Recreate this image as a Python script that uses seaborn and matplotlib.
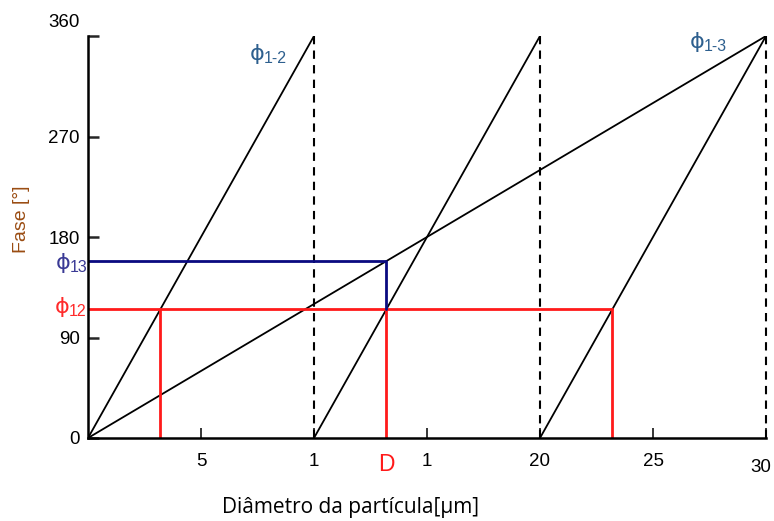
import matplotlib
matplotlib.use("Agg")
import matplotlib.pyplot as plt
import matplotlib.transforms as mtransforms
import seaborn as sns
import pandas as pd
import numpy as np

# ---- data ----
period_12 = 10.0          # ϕ1-2 wraps every 10 units
period_13 = 30.0          # ϕ1-3 wraps every 30 units
phase_max = 360
x_max = 30
D_value = 13.2
phi12_value = 115.2
phi13_value = 158.4
x_ticks = [5, 10, 13.2, 15, 20, 25, 30]
x_tick_labels = ["5", "1", "D", "1", "20", "25", "30"]
y_ticks = [0, 90, 180, 270, 360]
y_tick_labels = ["0", "90", "180", "270", "360"]
x_label = "Diâmetro da partícula[µm]"
y_label = "Fase [°]"

sns.set_theme(style="white")
plt.rcParams["font.family"] = ["Liberation Sans", "DejaVu Sans"]

fig = plt.figure(figsize=(7.74, 5.21), dpi=100)
ax = fig.add_axes([88/774, 83/521, (766-88)/774, (438-36)/521])

def seg_frame(segments):
    rows = []
    for i, (xs, ys) in enumerate(segments):
        for xv, yv in zip(xs, ys):
            rows.append({"seg": i, "x": xv, "y": yv})
    return pd.DataFrame(rows)

def draw(segments, **kw):
    sns.lineplot(data=seg_frame(segments), x="x", y="y", units="seg", estimator=None,
                 sort=False, legend=False, ax=ax, **kw)

# sawtooth segments for ϕ1-2 and the ϕ1-3 ramp
ramps = [([s, s + period_12], [0, phase_max]) for s in np.arange(0, x_max, period_12)]
ramps.append(([0, period_13], [0, phase_max]))
draw(ramps, color="black", lw=1.3)

# dashed verticals at wrap points
dashes = [([xv, xv], [0, phase_max]) for xv in np.arange(period_12, x_max + 0.1, period_12)]
draw(dashes, color="black", lw=1.5, linestyle=(0, (4, 3)), clip_on=False)

# red construction lines for ϕ12
red_xs = [D_value - period_12, D_value, D_value + period_12]
reds = [([0, red_xs[-1]], [phi12_value, phi12_value])]
reds += [([xv, xv], [0, phi12_value]) for xv in red_xs]
draw(reds, color="#ff1a1a", lw=2)

# blue construction lines for ϕ13
blues = [([0, D_value, D_value], [phi13_value, phi13_value, phi12_value])]
draw(blues, color="#0a0a80", lw=2)

ax.set_xlim(0, x_max)
ax.set_ylim(0, phase_max)
ax.set_xlabel("")
ax.set_ylabel("")
for s in ["top", "right"]:
    ax.spines[s].set_visible(False)
for s in ["left", "bottom"]:
    ax.spines[s].set_color("black")
    ax.spines[s].set_linewidth(1.8)

ax.set_yticks(y_ticks)
ax.set_yticklabels(y_tick_labels, fontsize=13.5, color="black")
ax.set_xticks(x_ticks)
ax.set_xticklabels(x_tick_labels, fontsize=13.5, color="black")
ax.tick_params(axis="y", direction="in", length=8, width=1.8, pad=6, left=True)
ax.tick_params(axis="x", direction="in", length=7, width=1.3, pad=11, bottom=True)

# style D tick
for lbl in ax.get_xticklabels():
    if lbl.get_text() == "D":
        lbl.set_color("#ff1a1a")
        lbl.set_fontsize(16.5)
    if lbl.get_text() == "30":
        lbl.set_transform(lbl.get_transform() + mtransforms.ScaledTranslation(-4/72, -4/72, fig.dpi_scale_trans))
for t, val in zip(ax.xaxis.get_major_ticks(), x_ticks):
    if val == D_value:
        t.tick1line.set_visible(False)

# shift 360 label up
for lbl in ax.get_yticklabels():
    if lbl.get_text() == "360":
        lbl.set_transform(lbl.get_transform() + mtransforms.ScaledTranslation(0, 11/72, fig.dpi_scale_trans))

ax.grid(False)

# axis labels
fig.text(350/774, 1 - 508/521, x_label, ha="center", va="center", fontsize=15,
         family=["Open Sans", "DejaVu Sans"], color="black")
fig.text(21/774, 1 - 219/521, y_label, ha="center", va="center", rotation=90,
         fontsize=14, color="#9a4c12")

# curve labels
def phi_label(x, y, sub, color):
    ax.annotate("ϕ", xy=(x, y), xycoords="axes fraction", fontsize=16, color=color,
                ha="left", va="center", family=["DejaVu Sans"], annotation_clip=False)
    ax.annotate(sub, xy=(x, y), xycoords="axes fraction", xytext=(10, -3),
                textcoords="offset points", fontsize=11.5, color=color, ha="left",
                va="center", annotation_clip=False)

to_axes = lambda px, py: ((px - 88) / (766 - 88), (438 - py) / (438 - 36))
phi_label(*to_axes(250, 54), "1-2", "#2d5f8e")
phi_label(*to_axes(690, 42), "1-3", "#2d5f8e")
phi_label(*to_axes(56, 263), "13", "#3a3a95")
phi_label(*to_axes(55, 307), "12", "#ff2a2a")

fig.savefig("out.png", dpi=100)
